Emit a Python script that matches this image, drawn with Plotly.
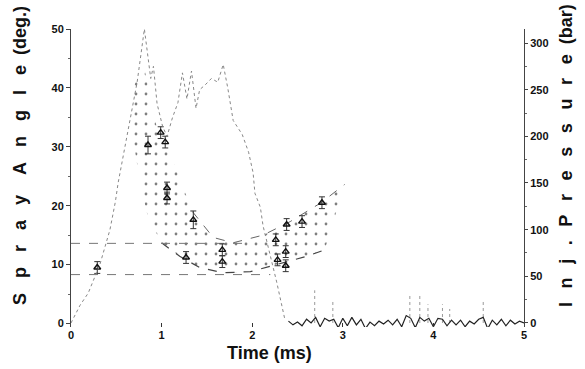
import plotly.graph_objects as go

# ---------------- data ----------------
# injection pressure trace (bar), main pulse
p_time = [0.0, 0.05, 0.1, 0.19, 0.32, 0.43, 0.49, 0.52, 0.63, 0.73, 0.81, 0.85, 0.88, 0.91,
          0.95, 1.01, 1.06, 1.12, 1.18, 1.23, 1.28, 1.33, 1.38, 1.42, 1.48, 1.55, 1.62, 1.68,
          1.73, 1.79, 1.89, 1.96, 2.01, 2.03, 2.09, 2.12, 2.16, 2.27, 2.36]
p_bar = [0, 10, 19, 32, 63, 100, 130, 150, 208, 258, 315, 285, 262, 275,
         235, 211, 200, 220, 236, 268, 240, 270, 230, 250, 255, 262, 258, 277,
         252, 217, 202, 183, 161, 139, 124, 104, 88, 44, 4]

# pressure signal after the end of injection (baseline noise)
tail_time = [2.40, 2.45, 2.50, 2.55, 2.60, 2.65, 2.70, 2.75, 2.80, 2.85, 2.90, 2.95, 3.00,
             3.05, 3.10, 3.15, 3.20, 3.25, 3.30, 3.35, 3.40, 3.45, 3.50, 3.55, 3.60, 3.65,
             3.70, 3.75, 3.80, 3.85, 3.90, 3.95, 4.00, 4.05, 4.10, 4.15, 4.20, 4.25, 4.30,
             4.35, 4.40, 4.45, 4.50, 4.55, 4.60, 4.65, 4.70, 4.75, 4.80, 4.85, 4.90, 4.95, 5.00]
tail_bar = [2, -2, 1, -3, 4, 0, 6, -4, 5, 2, 4, -5, 5,
            -3, 6, -2, 4, -6, 1, -3, 2, -1, 3, -2, 4, -4,
            8, 5, -5, 6, 2, 5, -4, 5, 4, -3, 3, -2, 3,
            -4, 2, -1, 4, 6, -6, 3, -2, 4, -3, 3, -1, 2, 0]
# isolated pressure spikes after injection (bar)
spike_time = [2.69, 2.89, 3.74, 3.85, 3.94, 4.10, 4.18, 4.55]
spike_bar = [35, 25, 30, 30, 20, 20, 15, 25]

# spray-angle envelope (deg)
upper_time = [0.80, 0.86, 0.95, 1.10, 1.19, 1.34, 1.57, 1.79, 2.12, 2.42, 2.76, 3.02]
upper_deg = [44.0, 39.6, 33.0, 28.6, 25.0, 19.0, 14.6, 13.7, 15.0, 17.3, 20.5, 23.6]
lower_time = [0.63, 0.70, 0.76, 0.85, 1.00, 1.20, 1.42, 1.68, 1.98, 2.27, 2.60, 2.80]
lower_deg = [38.0, 30.0, 24.0, 18.0, 13.7, 11.4, 9.5, 8.6, 8.8, 10.0, 11.4, 12.5]

# measured spray angles with error bars
spray_time = [0.29, 0.85, 0.99, 1.04, 1.06, 1.06, 1.27, 1.35, 1.67, 1.67, 2.26, 2.28, 2.37,
              2.37, 2.38, 2.55, 2.77]
spray_deg = [9.5, 30.3, 32.4, 30.8, 23.0, 21.3, 11.2, 17.6, 12.5, 10.5, 14.2, 10.8, 12.2,
             9.8, 16.8, 17.3, 20.5]
spray_err = [1.0, 1.5, 1.0, 1.0, 1.0, 1.0, 1.0, 1.5, 1.0, 1.0, 1.0, 1.0, 1.0,
             1.0, 1.0, 1.0, 1.0]

# horizontal reference levels (deg) and where they end (ms)
ref_deg = [13.6, 8.3]
ref_end = [1.95, 2.2]

x_ticks = [0, 1, 2, 3, 4, 5]
left_ticks = [0, 10, 20, 30, 40, 50]
right_ticks = [0, 50, 100, 150, 200, 250, 300]

# ---------------- figure ----------------
fig = go.Figure()

# dotted band between envelope curves
fig.add_trace(go.Scatter(
    x=upper_time + lower_time[::-1], y=upper_deg + lower_deg[::-1],
    mode="none", fill="toself", fillcolor="rgba(255,255,255,0)",
    fillpattern=dict(shape=".", size=10, solidity=0.06, fgcolor="#000",
                     bgcolor="rgba(255,255,255,0)"),
    hoverinfo="skip", showlegend=False))

# envelope boundary lines
fig.add_trace(go.Scatter(x=upper_time[5:], y=upper_deg[5:], mode="lines",
                         line=dict(color="#666", width=1, dash="dash"), showlegend=False))
fig.add_trace(go.Scatter(x=lower_time[4:], y=lower_deg[4:], mode="lines",
                         line=dict(color="#444", width=1.2, dash="dash"), showlegend=False))

# reference horizontal lines
for lvl, end in zip(ref_deg, ref_end):
    fig.add_trace(go.Scatter(x=[0, end], y=[lvl, lvl], mode="lines",
                             line=dict(color="#777", width=1, dash="dash"), showlegend=False))

# spray angle data
fig.add_trace(go.Scatter(
    x=spray_time, y=spray_deg, mode="markers",
    marker=dict(symbol="triangle-up-open", size=6, color="#111", line=dict(width=1.4)),
    error_y=dict(type="data", array=spray_err, color="#333", thickness=1, width=3),
    showlegend=False))

# injection pressure
fig.add_trace(go.Scatter(x=p_time, y=p_bar, yaxis="y2", mode="lines",
                         line=dict(color="#888", width=1, dash="dot"), showlegend=False))
sx, sy = [], []
for t, h in zip(spike_time, spike_bar):
    sx += [t, t, None]
    sy += [0, h, None]
fig.add_trace(go.Scatter(x=sx, y=sy, yaxis="y2", mode="lines",
                         line=dict(color="#999", width=1, dash="dot"), showlegend=False))
fig.add_trace(go.Scatter(x=tail_time, y=tail_bar, yaxis="y2", mode="lines",
                         line=dict(color="#222", width=1.2), showlegend=False))

tick_font = dict(family="Liberation Sans, Arial, sans-serif", size=11, color="#111", weight="bold")

fig.update_layout(
    width=585, height=369,
    margin=dict(l=71, r=61, t=29, b=42),
    paper_bgcolor="white", plot_bgcolor="white",
    font=dict(family="Liberation Sans, Arial, sans-serif", color="#111"),
    xaxis=dict(range=[0, 5], tickvals=x_ticks, showgrid=False, zeroline=False,
               showline=False, ticks="inside", ticklen=4, tickcolor="#333",
               tickfont=tick_font),
    yaxis=dict(range=[-0.6, 50], tickvals=left_ticks, showgrid=False, zeroline=False,
               showline=True, linecolor="#444", linewidth=1, ticks="outside", ticklen=4,
               tickcolor="#444", tickfont=tick_font,
               minor=dict(ticks="outside", ticklen=2, dtick=5, tickcolor="#666")),
    yaxis2=dict(range=[-4.3, 315], tickvals=right_ticks, overlaying="y", side="right",
                showgrid=False, zeroline=False, showline=True, linecolor="#444",
                linewidth=1, ticks="outside", ticklen=3, tickcolor="#444",
                tickfont=tick_font,
                minor=dict(ticks="outside", ticklen=2, dtick=25, tickcolor="#666")),
)

sp = "\u00a0\u00a0\u00a0"
left_title = sp.join("Spray") + sp + "\u00a0" + sp.join("Angle") + "\u00a0\u00a0(deg.)"
sp2 = "\u00a0\u00a0\u2009"
right_title = sp2.join("Inj.") + sp2 + sp2.join("Pressure") + "\u00a0\u00a0(bar)"

fig.add_annotation(text=left_title, xref="paper", yref="paper", x=-0.1126, y=0.577,
                   xanchor="center", yanchor="middle", textangle=-90, showarrow=False,
                   font=dict(size=18, weight="bold", color="#111"))
fig.add_annotation(text=right_title, xref="paper", yref="paper", x=1.0927, y=0.577,
                   xanchor="center", yanchor="middle", textangle=-90, showarrow=False,
                   font=dict(size=18, weight="bold", color="#111"))
fig.add_annotation(text="Time (ms)", xref="paper", yref="paper", x=0.439, y=-0.087,
                   xanchor="center", yanchor="middle", showarrow=False,
                   font=dict(size=18, weight="bold", color="#111"))

fig.write_html("out.html")
